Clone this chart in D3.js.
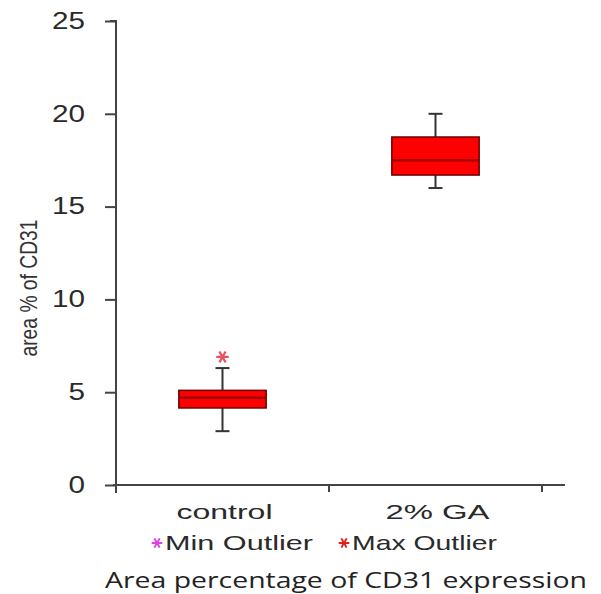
<!DOCTYPE html>
<html>
<meta charset="utf-8">
<style>
  body { margin: 0; background: #fff; }
</style>
<body>
<div id="chart"></div>
<script src="https://cdn.jsdelivr.net/npm/d3@7"></script>
<script>
  "use strict";

  // Data
  var groups = ["control", "2% GA"];
  var whiskerLow = [2.9, 16.0];
  var q1 = [4.15, 16.7];
  var median = [4.7, 17.5];
  var q3 = [5.1, 18.75];
  var whiskerHigh = [6.3, 20.0];
  var maxOutliers = [[0, 6.9]]; // [group index, value]
  var yTicks = [0, 5, 10, 15, 20, 25];
  var legendItems = ["Min Outlier", "Max Outlier"];
  var legendColors = ["#e040e0", "#e02020"];

  var width = 601, height = 594;
  var svg = d3.select("#chart").append("svg")
      .attr("width", width)
      .attr("height", height);

  // Plot area
  var plotLeft = 116, plotRight = 542, plotTop = 21, plotBottom = 485;

  var x = d3.scaleBand().domain(groups).range([plotLeft, plotRight]).paddingInner(0).paddingOuter(0);
  var y = d3.scaleLinear().domain([0, 25]).range([plotBottom, plotTop]);

  // Y axis
  var yAxis = svg.append("g")
      .attr("transform", "translate(" + plotLeft + ",0)")
      .call(d3.axisLeft(y).tickValues(yTicks).tickSize(11).tickPadding(20));
  yAxis.select(".domain").attr("stroke", "#444").attr("stroke-width", 2)
      .attr("d", "M-6," + plotTop + "H0V" + (plotBottom + 8));
  yAxis.selectAll(".tick line").attr("stroke", "#444").attr("stroke-width", 2);
  // the picture is stretched sideways, so widen the glyphs a little
  yAxis.selectAll(".tick text")
      .style("font-family", "'Liberation Sans', Arial, sans-serif")
      .style("font-size", "23px")
      .attr("fill", "#2a2a2a")
      .attr("textLength", function (d) { return String(d).length * 16.5; })
      .attr("lengthAdjust", "spacingAndGlyphs");

  // X axis line with tick marks at category edges
  svg.append("line")
      .attr("x1", plotLeft - 3).attr("x2", 565)
      .attr("y1", plotBottom).attr("y2", plotBottom)
      .attr("stroke", "#444").attr("stroke-width", 2);
  svg.selectAll(".xtick")
      .data(groups)
      .enter()
      .append("line")
      .attr("x1", function (d) { return x(d) + x.bandwidth(); })
      .attr("x2", function (d) { return x(d) + x.bandwidth(); })
      .attr("y1", plotBottom)
      .attr("y2", plotBottom + 7)
      .attr("stroke", "#444").attr("stroke-width", 2);

  // Category labels
  var labelW = [96, 104];
  svg.selectAll(".xlabel")
      .data(groups)
      .enter()
      .append("text")
      .attr("x", function (d, i) { return x(d) + x.bandwidth() / 2 - labelW[i] / 2 + 2; })
      .attr("y", 519)
      .style("font-family", "'Liberation Sans', Arial, sans-serif")
      .style("font-size", "21px")
      .attr("fill", "#2a2a2a")
      .attr("textLength", function (d, i) { return labelW[i]; })
      .attr("lengthAdjust", "spacingAndGlyphs")
      .text(function (d) { return d; });

  // Y axis title
  svg.append("text")
      .attr("transform", "translate(37,288) rotate(-90)")
      .attr("text-anchor", "middle")
      .style("font-family", "'Liberation Sans Narrow', 'Liberation Sans', Arial, sans-serif")
      .style("font-size", "24px")
      .attr("fill", "#333")
      .attr("textLength", 137)
      .attr("lengthAdjust", "spacingAndGlyphs")
      .text("area % of CD31");

  // Boxes
  var boxW = x.bandwidth() * 0.41;
  var capW = 14;
  var box = svg.selectAll(".box")
      .data(groups)
      .enter()
      .append("g");

  box.append("line")
      .attr("x1", function (d) { return x(d) + x.bandwidth() / 2; })
      .attr("x2", function (d) { return x(d) + x.bandwidth() / 2; })
      .attr("y1", function (d, i) { return y(whiskerLow[i]); })
      .attr("y2", function (d, i) { return y(whiskerHigh[i]); })
      .attr("stroke", "#333").attr("stroke-width", 2);

  [whiskerLow, whiskerHigh].forEach(function (arr) {
    box.append("line")
        .attr("x1", function (d) { return x(d) + x.bandwidth() / 2 - capW / 2; })
        .attr("x2", function (d) { return x(d) + x.bandwidth() / 2 + capW / 2; })
        .attr("y1", function (d, i) { return y(arr[i]); })
        .attr("y2", function (d, i) { return y(arr[i]); })
        .attr("stroke", "#333").attr("stroke-width", 2);
  });

  box.append("rect")
      .attr("x", function (d) { return x(d) + x.bandwidth() / 2 - boxW / 2; })
      .attr("width", boxW)
      .attr("y", function (d, i) { return y(q3[i]); })
      .attr("height", function (d, i) { return y(q1[i]) - y(q3[i]); })
      .attr("fill", "#ff0000")
      .attr("stroke", "#6a0000")
      .attr("stroke-width", 1.5);

  box.append("line")
      .attr("x1", function (d) { return x(d) + x.bandwidth() / 2 - boxW / 2; })
      .attr("x2", function (d) { return x(d) + x.bandwidth() / 2 + boxW / 2; })
      .attr("y1", function (d, i) { return y(median[i]); })
      .attr("y2", function (d, i) { return y(median[i]); })
      .attr("stroke", "#a00000").attr("stroke-width", 2.5);

  // Outliers
  var star = d3.symbol().type(d3.symbolAsterisk).size(110);
  svg.selectAll(".outlier")
      .data(maxOutliers)
      .enter()
      .append("path")
      .attr("d", star)
      .attr("transform", function (d) {
        return "translate(" + (x(groups[d[0]]) + x.bandwidth() / 2) + "," + y(d[1]) + ") rotate(90)";
      })
      .attr("fill", "none")
      .attr("stroke", "#e85060").attr("stroke-width", 2.2);

  // Legend
  var legendX = [157, 344];
  var legendW = [148, 145];
  var lg = svg.selectAll(".legend")
      .data(legendItems)
      .enter()
      .append("g")
      .attr("transform", function (d, i) { return "translate(" + legendX[i] + ",550)"; });
  lg.append("path")
      .attr("d", d3.symbol().type(d3.symbolAsterisk).size(80))
      .attr("transform", "translate(0,-7) rotate(90)")
      .attr("fill", "none")
      .attr("stroke", function (d, i) { return legendColors[i]; })
      .attr("stroke-width", 2);
  lg.append("text")
      .attr("x", 8)
      .attr("y", 0)
      .style("font-family", "'Liberation Sans', Arial, sans-serif")
      .style("font-size", "21px")
      .attr("fill", "#2a2a2a")
      .attr("textLength", function (d, i) { return legendW[i]; })
      .attr("lengthAdjust", "spacingAndGlyphs")
      .text(function (d) { return d; });

  // Chart title at the bottom
  svg.append("text")
      .attr("x", 105)
      .attr("y", 588)
      .style("font-family", "'Open Sans', 'DejaVu Sans', sans-serif")
      .style("font-size", "21px")
      .attr("fill", "#222")
      .attr("textLength", 482)
      .attr("lengthAdjust", "spacingAndGlyphs")
      .text("Area percentage of CD31 expression");
</script>
</body>
</html>
